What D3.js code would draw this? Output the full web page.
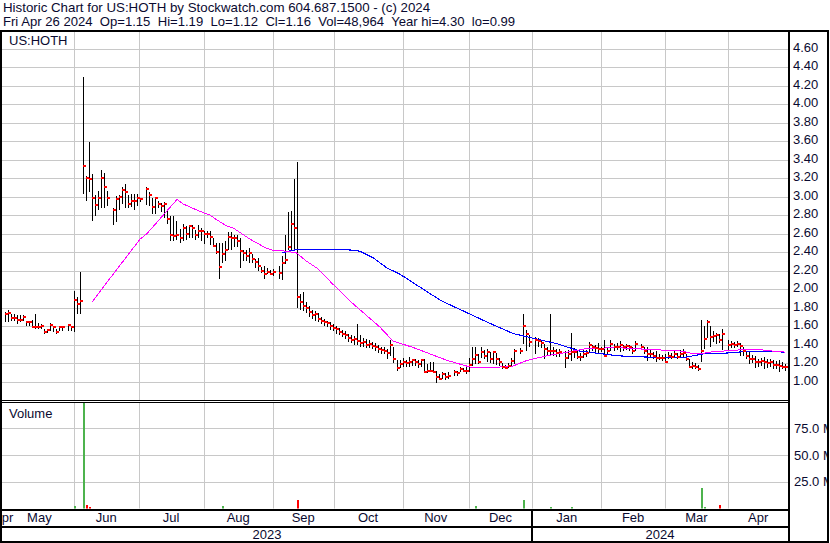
<!DOCTYPE html>
<html><head><meta charset="utf-8">
<script src="https://cdn.jsdelivr.net/npm/d3@7"></script>
<style>
html,body{margin:0;padding:0;background:#fff;}
svg{display:block;font-family:"Liberation Sans",Arial,sans-serif;}
</style></head><body>
<svg id="c" width="830" height="543"></svg>
<script>
const titleLine1 = "Historic Chart for US:HOTH by Stockwatch.com 604.687.1500 - (c) 2024";
const titleLine2 = "Fri Apr 26 2024  Op=1.15  Hi=1.19  Lo=1.12  Cl=1.16  Vol=48,964  Year hi=4.30  lo=0.99";
const symbol = "US:HOTH";
const volumeTitle = "Volume";
const slotCount = 260; // weekday slots May 1 2023 .. Apr 26 2024 (holidays = null)
const monthLabels = ["Apr","May","Jun","Jul","Aug","Sep","Oct","Nov","Dec","Jan","Feb","Mar","Apr"];
const monthStart  = [-1, 0, 23, 44.4, 66, 89, 109.1, 132, 154, 175, 198, 219, 240];
const yearLabels = ["2023","2024"];
const yearStart  = [-1, 175];
const priceTicks = [1.00,1.20,1.40,1.60,1.80,2.00,2.20,2.40,2.60,2.80,3.00,3.20,3.40,3.60,3.80,4.00,4.20,4.40,4.60];
const volTicks = [25, 50, 75];

const close = [
 1.73,1.74,1.69,1.69,1.67,1.67,1.70,1.64,1.64,1.59,1.59,1.59,1.60,1.54,1.56,1.61,1.59,1.54,1.59,1.59,null,1.61,1.59,
 1.88,1.84,1.87,3.33,3.20,3.19,2.99,2.91,2.98,3.20,3.10,2.99,null,2.86,2.97,3.00,3.07,3.05,2.92,2.95,2.95,2.99,
 2.97,null,3.08,3.02,2.89,2.98,2.92,2.90,2.92,2.76,2.59,2.57,2.59,2.55,2.66,2.60,2.68,2.66,2.59,2.63,2.63,
 2.60,2.60,2.56,2.47,2.40,2.24,2.38,2.42,2.56,2.55,2.55,2.52,2.41,2.39,2.36,2.39,2.33,2.29,2.25,2.20,2.16,2.19,2.16,
 2.18,null,2.17,2.28,2.31,2.45,2.70,2.66,1.91,1.86,1.82,1.80,1.75,1.72,1.73,1.68,1.66,1.64,1.63,1.60,1.58,
 1.57,1.54,1.52,1.50,1.47,1.45,1.46,1.44,1.42,1.43,1.40,1.41,1.39,1.37,1.35,1.34,1.33,1.31,1.40,1.245,1.15,1.19,
 1.21,1.20,1.21,1.23,1.21,1.19,1.23,1.11,1.12,1.12,1.11,1.05,1.03,1.08,1.05,1.06,null,1.10,1.09,1.14,1.12,1.12,
 1.18,1.245,1.29,1.21,1.32,1.28,1.32,1.245,1.32,1.245,1.21,1.16,1.15,1.17,1.22,1.33,null,1.33,1.60,1.51,1.43,
 null,1.45,1.44,1.42,1.35,1.33,1.33,1.33,1.31,1.32,null,1.26,1.30,1.32,1.32,1.27,1.27,1.30,1.31,1.395,1.37,1.36,1.35,
 1.35,1.28,1.33,1.41,1.37,1.38,1.395,1.37,1.385,1.37,1.33,1.41,null,1.38,1.33,1.30,1.30,1.28,1.26,1.26,1.26,
 1.215,1.28,1.27,1.30,1.27,1.30,1.31,1.245,1.16,1.17,1.16,1.14,1.33,1.46,1.64,1.485,1.49,1.50,1.45,1.51,null,
 1.40,1.41,1.40,1.41,1.385,1.33,1.28,1.245,1.25,1.21,1.21,1.22,1.21,1.20,1.21,1.18,1.18,1.17,1.16,1.16
];
const high = [
 1.75,1.77,1.73,1.73,1.72,1.72,1.72,1.65,1.66,1.67,1.73,1.63,1.62,1.57,1.57,1.63,1.60,1.57,1.60,1.60,null,1.62,1.60,
 1.98,1.92,2.18,4.29,3.22,3.59,3.24,3.02,3.06,3.29,3.26,3.06,null,2.88,3.01,3.02,3.10,3.14,3.02,3.03,3.03,3.03,
 2.99,null,3.10,3.05,2.99,3.00,2.95,2.93,2.94,2.85,2.79,2.79,2.74,2.65,2.70,2.68,2.69,2.69,2.64,2.69,2.66,
 2.63,2.63,2.63,2.55,2.50,2.50,2.50,2.52,2.62,2.62,2.58,2.58,2.55,2.42,2.42,2.44,2.38,2.33,2.34,2.24,2.25,2.23,2.21,
 2.22,null,2.25,2.36,2.58,2.83,2.84,3.19,3.37,1.95,1.97,1.86,1.82,1.78,1.76,1.74,1.70,1.68,1.66,1.65,1.62,
 1.60,1.58,1.56,1.55,1.52,1.50,1.49,1.62,1.50,1.47,1.46,1.45,1.43,1.42,1.40,1.38,1.38,1.35,1.45,1.37,1.23,1.23,
 1.26,1.23,1.27,1.25,1.24,1.23,1.25,1.24,1.19,1.21,1.21,1.12,1.08,1.10,1.09,1.10,null,1.13,1.12,1.16,1.15,1.17,
 1.26,1.37,1.38,1.30,1.38,1.34,1.35,1.32,1.33,1.31,1.26,1.20,1.18,1.20,1.26,1.35,null,1.36,1.73,1.56,1.50,
 null,1.48,1.47,1.45,1.41,1.38,1.73,1.37,1.35,1.35,null,1.33,1.34,1.53,1.36,1.33,1.31,1.34,1.34,1.43,1.40,1.40,1.42,
 1.38,1.45,1.37,1.45,1.41,1.42,1.44,1.40,1.41,1.40,1.37,1.44,null,1.41,1.37,1.37,1.34,1.32,1.33,1.30,1.29,
 1.30,1.32,1.31,1.33,1.31,1.34,1.35,1.30,1.25,1.21,1.20,1.18,1.665,1.60,1.665,1.60,1.55,1.53,1.52,1.57,null,
 1.45,1.44,1.43,1.44,1.42,1.38,1.33,1.32,1.29,1.28,1.25,1.26,1.27,1.24,1.24,1.23,1.22,1.23,1.21,1.19
];
const low = [
 1.65,1.64,1.66,1.66,1.62,1.65,1.66,1.60,1.60,1.58,1.57,1.57,1.57,1.52,1.53,1.55,1.54,1.51,1.55,1.55,null,1.55,1.55,
 1.54,1.73,1.73,3.03,2.95,3.05,2.74,2.79,2.85,2.88,2.88,2.90,null,2.69,2.73,2.86,2.92,2.88,2.88,2.89,2.86,2.90,
 2.94,null,2.91,2.90,2.81,2.81,2.88,2.83,2.77,2.70,2.52,2.52,2.53,2.50,2.52,2.53,2.55,2.55,2.53,2.55,2.52,
 2.49,2.55,2.48,2.45,2.38,2.11,2.28,2.30,2.42,2.42,2.45,2.45,2.23,2.30,2.30,2.28,2.28,2.23,2.20,2.17,2.11,2.16,2.15,
 2.14,null,2.11,2.10,2.27,2.42,2.42,2.42,1.80,1.78,1.76,1.74,1.70,1.68,1.66,1.64,1.62,1.60,1.59,1.56,1.55,
 1.52,1.50,1.48,1.46,1.43,1.42,1.40,1.40,1.38,1.38,1.36,1.36,1.35,1.33,1.31,1.30,1.30,1.25,1.28,1.20,1.12,1.15,
 1.16,1.16,1.16,1.17,1.17,1.15,1.16,1.10,1.09,1.10,1.09,0.99,1.02,1.03,1.02,1.03,null,1.06,1.06,1.10,1.10,1.08,
 1.10,1.17,1.19,1.19,1.26,1.24,1.21,1.20,1.19,1.18,1.17,1.14,1.14,1.15,1.16,1.19,null,1.30,1.41,1.33,1.38,
 null,1.30,1.38,1.36,1.25,1.28,1.28,1.28,1.27,1.27,null,1.15,1.24,1.22,1.26,1.24,1.22,1.26,1.27,1.31,1.33,1.32,1.30,
 1.32,1.27,1.30,1.33,1.33,1.34,1.32,1.33,1.34,1.33,1.30,1.33,null,1.34,1.30,1.22,1.26,1.24,1.21,1.23,1.22,
 1.21,1.24,1.24,1.26,1.24,1.26,1.26,1.22,1.15,1.14,1.14,1.12,1.21,1.35,1.47,1.37,1.43,1.41,1.42,1.34,null,
 1.34,1.36,1.36,1.37,1.28,1.28,1.24,1.19,1.20,1.15,1.16,1.17,1.14,1.15,1.16,1.14,1.14,1.10,1.14,1.12
];
// visible volume bars (millions)
const volSlot = [23, 26, 27, 28, 72, 97, 156, 172, 181, 188, 231, 232, 237];
const volM    = [2.3, 130, 3.3, 1.7, 2.3, 8, 2.3, 8, 1.4, 1.4, 19.5, 1.4, 3.3];
// moving averages
const maPinkSlot = [29,34.3,44.9,47.2,57.2,59.2,64.8,68.1,70.3,73.8,75.9,81.4,86.9,89.1,93.6,96.9,100.2,103.5,109,114.6,124.5,128.8,135.5,146.8,152.1,155.4,161,168.7,173.3,179.9,185.3,193.2,197.5,201.8,213.1,225.1,227.4,230.7,234,246.3,249.6,255,259];
const maPinkVal  = [1.86,2.09,2.54,2.60,2.97,2.92,2.84,2.80,2.75,2.68,2.66,2.54,2.44,2.42,2.41,2.39,2.30,2.23,2.05,1.87,1.59,1.44,1.37,1.23,1.18,1.15,1.15,1.17,1.23,1.28,1.31,1.36,1.36,1.37,1.35,1.33,1.31,1.30,1.32,1.35,1.35,1.33,1.32];
const maBlueSlot = [92,94,95.7,97.6,111.9,115.6,117.9,122.2,126.8,131.2,144.8,154.4,161,168.7,176.6,183.3,190.9,197.5,203.2,217.4,225.1,228.4,231.7,239.7,247.3,259];
const maBlueVal  = [2.39,2.41,2.42,2.43,2.43,2.42,2.41,2.34,2.23,2.16,1.875,1.73,1.63,1.52,1.46,1.41,1.33,1.305,1.28,1.26,1.26,1.28,1.30,1.31,1.33,1.32];

// ---------- layout ----------
const L = 2, R = 788, pTop = 32, pBot = 400, vTop = 403, vBot = 508.5;
const txt = "#0a0a30", grid = "#c8c8c8";
const svg = d3.select("#c");
const x = d3.scaleLinear().domain([0, slotCount - 1]).range([4.7, 785.3]);
const y = d3.scaleLinear().domain([1, 4.6]).range([381.7, 48.5]);
const yv = d3.scaleLinear().domain([0, 75]).range([508.5, 428.3]);

const defs = svg.append("defs");
defs.append("clipPath").attr("id","cp").append("rect").attr("x",L).attr("y",pTop).attr("width",R-L).attr("height",pBot-pTop);
defs.append("clipPath").attr("id","cv").append("rect").attr("x",L).attr("y",vTop).attr("width",R-L).attr("height",vBot-vTop);
defs.append("clipPath").attr("id","cr").append("rect").attr("x",790).attr("y",0).attr("width",37).attr("height",543);
defs.append("clipPath").attr("id","cm").append("rect").attr("x",L).attr("y",509).attr("width",R-L).attr("height",34);

svg.append("rect").attr("width",830).attr("height",543).attr("fill","#fff");

// titles
svg.append("text").attr("x",3).attr("y",12).attr("font-size",13.3).attr("fill",txt).text(titleLine1);
svg.append("text").attr("x",3).attr("y",26).attr("font-size",13.1).attr("fill",txt).style("white-space","pre").text(titleLine2);

// grids
const gP = svg.append("g").attr("clip-path","url(#cp)").attr("shape-rendering","crispEdges");
gP.selectAll("line.h").data(priceTicks).join("line")
  .attr("x1",L).attr("x2",R).attr("y1",d=>Math.round(y(d))+0.5).attr("y2",d=>Math.round(y(d))+0.5)
  .attr("stroke",grid);
const gridMonths = monthStart.filter(d => x(d) > L + 3);
gP.selectAll("line.v").data(gridMonths).join("line")
  .attr("x1",d=>Math.round(x(d))+0.5).attr("x2",d=>Math.round(x(d))+0.5).attr("y1",pTop).attr("y2",pBot)
  .attr("stroke",grid);
const gV = svg.append("g").attr("clip-path","url(#cv)").attr("shape-rendering","crispEdges");
gV.selectAll("line.h").data(volTicks).join("line")
  .attr("x1",L).attr("x2",R).attr("y1",d=>Math.round(yv(d))+0.5).attr("y2",d=>Math.round(yv(d))+0.5)
  .attr("stroke",grid);
gV.selectAll("line.v").data(gridMonths).join("line")
  .attr("x1",d=>Math.round(x(d))+0.5).attr("x2",d=>Math.round(x(d))+0.5).attr("y1",vTop).attr("y2",vBot)
  .attr("stroke",grid);

// price bars
const bars = d3.range(slotCount).filter(i => close[i] != null)
  .map(i => ({i, h: high[i], l: low[i], c: close[i]}));
gP.selectAll("rect.bar").data(bars).join("rect")
  .attr("x",d=>Math.round(x(d.i))).attr("width",1)
  .attr("y",d=>Math.round(y(d.h))).attr("height",d=>Math.max(1,Math.round(y(d.l))-Math.round(y(d.h))))
  .attr("fill","#000");

// moving averages
const line = d3.line().x(d=>x(d[0])).y(d=>y(d[1]));
gP.append("path").datum(maBlueSlot.map((s,k)=>[s,maBlueVal[k]])).attr("d",line)
  .attr("fill","none").attr("stroke","#0000ff").attr("stroke-width",1.1);
gP.append("path").datum(maPinkSlot.map((s,k)=>[s,maPinkVal[k]])).attr("d",line)
  .attr("fill","none").attr("stroke","#ff00ff").attr("stroke-width",1);

// close marks
gP.selectAll("rect.cl").data(bars).join("rect")
  .attr("x",d=>Math.round(x(d.i))).attr("width",3)
  .attr("y",d=>Math.round(y(d.c))-1).attr("height",2)
  .attr("fill","#ff0000");

// volume
function prevClose(i){ for(let k=i-1;k>=0;k--) if(close[k]!=null) return close[k]; return close[i]; }
const vols = volSlot.map((s,k)=>({i:s, v:volM[k], up: close[s] >= prevClose(s)}));
gV.selectAll("rect.vol").data(vols).join("rect")
  .attr("x",d=>Math.round(x(d.i))).attr("width",2)
  .attr("y",d=>yv(d.v)).attr("height",d=>yv(0)-yv(d.v))
  .attr("fill",d=>d.up ? "#4db34d" : "#ff0000");

// panel labels
svg.append("text").attr("x",9).attr("y",45).attr("font-size",13).attr("fill",txt).text(symbol);
svg.append("text").attr("x",9).attr("y",418).attr("font-size",13).attr("fill",txt).text(volumeTitle);

// right axes
const gr = svg.append("g").attr("clip-path","url(#cr)");
gr.selectAll("text.p").data(priceTicks).join("text")
  .attr("x",793).attr("y",d=>y(d)+3).attr("font-size",13).attr("fill",txt).text(d=>d3.format(".2f")(d));
gr.selectAll("text.v").data(volTicks).join("text")
  .attr("x",794).attr("y",d=>yv(d)+4.5).attr("font-size",13).attr("fill",txt).text(d=>d3.format(".1f")(d)+" M");

// month & year labels
const gm = svg.append("g").attr("clip-path","url(#cm)");
const mEnds = monthStart.slice(1).concat([slotCount]);
gm.selectAll("text.m").data(monthLabels).join("text")
  .attr("x",(d,k)=>(x(monthStart[k])+x(mEnds[k]))/2).attr("y",522)
  .attr("text-anchor","middle").attr("font-size",13).attr("fill",txt).text(d=>d);
const yEnds = yearStart.slice(1).concat([slotCount]);
gm.selectAll("text.y").data(yearLabels).join("text")
  .attr("x",(d,k)=>(Math.max(0,x(yearStart[k]))+Math.min(R,x(yEnds[k])))/2).attr("y",539)
  .attr("text-anchor","middle").attr("font-size",13).attr("fill",txt).text(d=>d);

// frame
const fr = svg.append("g").attr("fill","#000").attr("shape-rendering","crispEdges");
fr.append("rect").attr("x",0).attr("y",30).attr("width",829).attr("height",2);
fr.append("rect").attr("x",0).attr("y",30).attr("width",2).attr("height",513);
fr.append("rect").attr("x",827).attr("y",30).attr("width",2).attr("height",513);
fr.append("rect").attr("x",0).attr("y",541).attr("width",829).attr("height",2);
fr.append("rect").attr("x",R).attr("y",30).attr("width",2).attr("height",513);
fr.append("rect").attr("x",0).attr("y",400).attr("width",R).attr("height",1);
fr.append("rect").attr("x",0).attr("y",402).attr("width",R).attr("height",1);
fr.append("rect").attr("x",0).attr("y",509).attr("width",R).attr("height",2);
fr.append("rect").attr("x",0).attr("y",526).attr("width",R).attr("height",2);
fr.append("rect").attr("x",Math.round(x(yearStart[1]))-1).attr("y",509).attr("width",2).attr("height",32);
</script>
</body></html>
